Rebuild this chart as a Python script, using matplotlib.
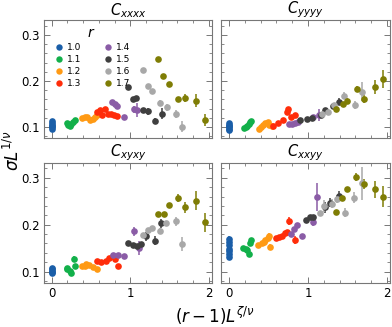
import matplotlib
matplotlib.use("Agg")
import matplotlib.pyplot as plt
from matplotlib.ticker import MultipleLocator
from matplotlib.lines import Line2D

r_labels = ["1.0", "1.1", "1.2", "1.3", "1.4", "1.5", "1.6", "1.7"]
colors = ["#1a5ea8", "#12b04a", "#ff9a14", "#ff2d0a", "#8a5ca6", "#3f3f3f", "#a8a8a8", "#7f7d05"]
panel_titles = [r"$C_{xxxx}$", r"$C_{yyyy}$", r"$C_{xyxy}$", r"$C_{xxyy}$"]
xtick_labels = ["0", "1", "2"]

# ---------------- C_xxxx ----------------
cxxxx_x = [
    [0, 0, 0, 0, 0, 0],
    [0.19, 0.21, 0.23, 0.25, 0.27, 0.29],
    [0.38, 0.42, 0.45, 0.49, 0.52, 0.55, 0.58],
    [0.57, 0.61, 0.64, 0.68, 0.71, 0.75, 0.79, 0.83],
    [0.77, 0.80, 0.83, 0.92, 1.05, 1.09],
    [0.97, 1.03, 1.07, 1.16, 1.22, 1.32, 1.40],
    [1.16, 1.22, 1.28, 1.38, 1.47, 1.58, 1.66],
    [1.35, 1.42, 1.49, 1.61, 1.70, 1.84, 1.95],
]
cxxxx_y = [
    [0.096, 0.099, 0.102, 0.105, 0.109, 0.113],
    [0.108, 0.104, 0.101, 0.106, 0.110, 0.115],
    [0.119, 0.122, 0.121, 0.115, 0.117, 0.122, 0.126],
    [0.133, 0.137, 0.126, 0.139, 0.128, 0.128, 0.126, 0.123],
    [0.155, 0.151, 0.146, 0.122, 0.138, 0.137],
    [0.186, 0.160, 0.162, 0.136, 0.134, 0.113, 0.129],
    [0.223, 0.189, 0.179, 0.153, 0.143, 0.128, 0.100],
    [0.248, 0.211, 0.193, 0.161, 0.163, 0.157, 0.115],
]
cxxxx_err = [
    [0.003] * 6,
    [0.003] * 6,
    [0.003] * 7,
    [0.003] * 8,
    [0.003, 0.003, 0.003, 0.003, 0.008, 0.015],
    [0.003, 0.003, 0.003, 0.006, 0.008, 0.006, 0.012],
    [0.003, 0.003, 0.003, 0.005, 0.008, 0.008, 0.012],
    [0.003, 0.004, 0.004, 0.005, 0.009, 0.014, 0.014],
]

# ---------------- C_yyyy ----------------
cyyyy_x = [
    [0, 0, 0, 0, 0, 0],
    [0.19, 0.21, 0.23, 0.25, 0.27, 0.28],
    [0.38, 0.40, 0.43, 0.46, 0.49, 0.51, 0.54],
    [0.56, 0.62, 0.69, 0.73, 0.75, 0.79, 0.84],
    [0.76, 0.80, 0.84, 0.88, 1.07, 1.14],
    [0.90, 0.99, 1.05, 1.16, 1.22, 1.32, 1.39],
    [1.18, 1.25, 1.33, 1.46, 1.59, 1.69],
    [1.36, 1.44, 1.50, 1.62, 1.71, 1.85, 1.95],
]
cyyyy_y = [
    [0.093, 0.096, 0.099, 0.102, 0.105, 0.108],
    [0.097, 0.099, 0.103, 0.106, 0.110, 0.113],
    [0.095, 0.100, 0.105, 0.108, 0.111, 0.105, 0.101],
    [0.103, 0.108, 0.115, 0.133, 0.140, 0.122, 0.126],
    [0.106, 0.107, 0.108, 0.110, 0.122, 0.126],
    [0.115, 0.117, 0.120, 0.127, 0.136, 0.145, 0.155],
    [0.129, 0.133, 0.147, 0.168, 0.148, 0.177],
    [0.140, 0.150, 0.157, 0.182, 0.161, 0.187, 0.204],
]
cyyyy_err = [
    [0.003] * 6,
    [0.003] * 6,
    [0.003] * 7,
    [0.003] * 7,
    [0.003, 0.003, 0.003, 0.003, 0.004, 0.012],
    [0.003, 0.003, 0.004, 0.005, 0.006, 0.007, 0.008],
    [0.003, 0.004, 0.005, 0.008, 0.008, 0.020],
    [0.004, 0.005, 0.006, 0.007, 0.008, 0.015, 0.020],
]

# ---------------- C_xyxy ----------------
cxyxy_x = [
    [0, 0, 0, 0, 0],
    [0.19, 0.20, 0.23, 0.24, 0.28, 0.29],
    [0.38, 0.42, 0.44, 0.48, 0.52, 0.57],
    [0.57, 0.63, 0.69, 0.73, 0.78, 0.80, 0.84],
    [0.78, 0.84, 0.92, 1.05, 1.11],
    [0.97, 1.03, 1.09, 1.14, 1.20, 1.32, 1.39],
    [1.16, 1.22, 1.28, 1.38, 1.46, 1.58, 1.66],
    [1.35, 1.43, 1.49, 1.61, 1.70, 1.84, 1.95],
]
cxyxy_y = [
    [0.096, 0.099, 0.102, 0.105, 0.108],
    [0.108, 0.105, 0.102, 0.096, 0.127, 0.113],
    [0.113, 0.113, 0.116, 0.114, 0.109, 0.106],
    [0.122, 0.121, 0.123, 0.129, 0.134, 0.127, 0.111],
    [0.136, 0.136, 0.134, 0.186, 0.150],
    [0.160, 0.157, 0.154, 0.159, 0.175, 0.166, 0.203],
    [0.179, 0.189, 0.194, 0.187, 0.203, 0.207, 0.158],
    [0.223, 0.223, 0.242, 0.257, 0.237, 0.251, 0.205],
]
cxyxy_err = [
    [0.003] * 5,
    [0.003, 0.003, 0.003, 0.003, 0.006, 0.003],
    [0.003] * 6,
    [0.003, 0.003, 0.003, 0.003, 0.004, 0.003, 0.004],
    [0.003, 0.003, 0.003, 0.010, 0.015],
    [0.003, 0.003, 0.003, 0.004, 0.010, 0.010, 0.010],
    [0.003, 0.003, 0.003, 0.006, 0.006, 0.010, 0.015],
    [0.004, 0.004, 0.004, 0.008, 0.012, 0.020, 0.020],
]

# ---------------- C_xxyy ----------------
cxxyy_x = [
    [0, 0, 0, 0, 0, 0, 0],
    [0.18, 0.22, 0.23, 0.25, 0.27, 0.28],
    [0.37, 0.42, 0.44, 0.46, 0.49, 0.51, 0.52],
    [0.59, 0.63, 0.67, 0.71, 0.74, 0.76, 0.84],
    [0.78, 0.82, 0.86, 0.93, 1.06, 1.12],
    [0.97, 1.02, 1.07, 1.22, 1.28, 1.39],
    [1.15, 1.20, 1.31, 1.37, 1.47, 1.58, 1.68],
    [1.35, 1.43, 1.50, 1.61, 1.71, 1.85, 1.95],
]
cxxyy_y = [
    [0.131, 0.137, 0.143, 0.148, 0.157, 0.163, 0.170],
    [0.150, 0.149, 0.146, 0.138, 0.162, 0.167],
    [0.157, 0.162, 0.164, 0.167, 0.171, 0.177, 0.152],
    [0.172, 0.174, 0.176, 0.182, 0.185, 0.208, 0.167],
    [0.180, 0.191, 0.200, 0.175, 0.205, 0.260],
    [0.211, 0.216, 0.217, 0.237, 0.247, 0.262],
    [0.226, 0.240, 0.245, 0.255, 0.226, 0.258, 0.288],
    [0.228, 0.258, 0.277, 0.302, 0.287, 0.276, 0.260],
]
cxxyy_err = [
    [0.005, 0.004, 0.004, 0.004, 0.004, 0.004, 0.006],
    [0.003, 0.003, 0.003, 0.004, 0.004, 0.005],
    [0.004, 0.004, 0.005, 0.005, 0.005, 0.006, 0.006],
    [0.003, 0.003, 0.003, 0.004, 0.004, 0.008, 0.008],
    [0.004, 0.004, 0.004, 0.006, 0.008, 0.030],
    [0.003, 0.003, 0.003, 0.012, 0.010, 0.010],
    [0.004, 0.012, 0.010, 0.008, 0.010, 0.012, 0.035],
    [0.004, 0.004, 0.004, 0.008, 0.010, 0.018, 0.022],
]

panels = [
    (cxxxx_x, cxxxx_y, cxxxx_err),
    (cyyyy_x, cyyyy_y, cyyyy_err),
    (cxyxy_x, cxyxy_y, cxyxy_err),
    (cxxyy_x, cxxyy_y, cxxyy_err),
]

fig = plt.figure(figsize=(3.92, 3.27), dpi=100)
positions = [
    [0.112, 0.578, 0.429, 0.360],
    [0.564, 0.578, 0.431, 0.360],
    [0.112, 0.135, 0.429, 0.367],
    [0.564, 0.135, 0.431, 0.367],
]
frame_col = "#777777"

for i, (pos, (xs, ys, es)) in enumerate(zip(positions, panels)):
    ax = fig.add_axes(pos)
    for k in range(len(r_labels)):
        ax.errorbar(xs[k], ys[k], yerr=es[k], fmt="o", color=colors[k],
                    ms=4.8, elinewidth=1.1, capsize=0, mew=0, zorder=3)
    ax.set_xlim(-0.1, 2.04)
    ax.set_ylim(0.076, 0.332)
    ax.xaxis.set_major_locator(MultipleLocator(1))
    ax.xaxis.set_minor_locator(MultipleLocator(0.2))
    ax.yaxis.set_major_locator(MultipleLocator(0.1))
    ax.yaxis.set_minor_locator(MultipleLocator(0.02))
    ax.tick_params(which="both", direction="in", top=True, right=True,
                   color=frame_col, labelsize=8.5, pad=3)
    ax.tick_params(which="major", length=4, width=0.7)
    ax.tick_params(which="minor", length=2, width=0.6)
    for sp in ax.spines.values():
        sp.set_color(frame_col)
        sp.set_linewidth(0.8)
    ax.set_title(panel_titles[i], fontsize=10.5, pad=0.8)
    if i in (0, 2):
        ax.set_yticks([0.1, 0.2, 0.3])
        ax.set_yticklabels(["0.1", "0.2", "0.3"])
    else:
        ax.tick_params(labelleft=False)
    if i in (2, 3):
        ax.set_xticks([0, 1, 2])
        ax.set_xticklabels(xtick_labels)
    else:
        ax.tick_params(labelbottom=False)
    if i == 0:
        handles = [Line2D([], [], marker="o", ls="", color=c, ms=4.6, mew=0) for c in colors]
        leg = ax.legend(handles, r_labels, title=r"$r$", ncol=2, loc="upper left",
                        bbox_to_anchor=(0.02, 1.0), frameon=False, fontsize=6.5,
                        title_fontsize=10, handletextpad=0.1, columnspacing=2.2,
                        labelspacing=0.35, handlelength=1.5, borderaxespad=0.2)

fig.text(0.033, 0.54, r"$\sigma L^{1/\nu}$", rotation=90, ha="center", va="center", fontsize=12)
fig.text(0.548, 0.035, r"$(r-1)L^{\zeta/\nu}$", ha="center", va="center", fontsize=12)

fig.savefig("out.png", dpi=100)
